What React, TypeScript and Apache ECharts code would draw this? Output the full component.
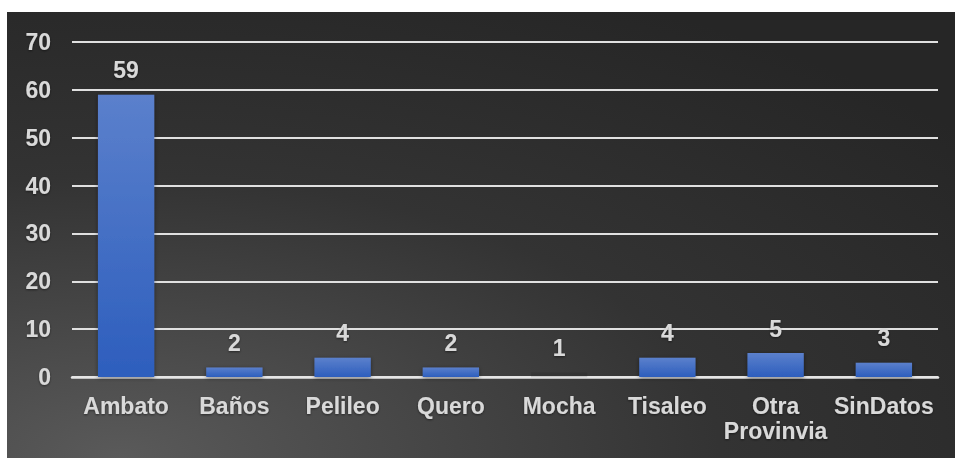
import React, { useEffect, useRef } from "react";
import * as echarts from "echarts";

const categories = ["Ambato", "Baños", "Pelileo", "Quero", "Mocha", "Tisaleo", "Otra\nProvinvia", "SinDatos"];
const values = [59, 2, 4, 2, 1, 4, 5, 3];
const yTicks = { min: 0, max: 70, interval: 10 };

export default function App() {
  const ref = useRef<HTMLDivElement>(null);
  useEffect(() => {
    if (!ref.current) return;
    const chart = echarts.init(ref.current, undefined, { renderer: "svg" });
    const barGrad = new echarts.graphic.LinearGradient(0, 0, 0, 1, [
      { offset: 0, color: "#5b80cc" },
      { offset: 1, color: "#2d5ebd" },
    ]);
    const textColor = "#d9d9d9";
    const font = "'Liberation Sans', Arial, sans-serif";
    const textShadow = { textShadowColor: "rgba(0,0,0,0.5)", textShadowBlur: 2, textShadowOffsetY: 1 };
    chart.setOption({
      animation: false,
      backgroundColor: "#ffffff",
      graphic: [
        {
          type: "rect",
          z: -10,
          silent: true,
          shape: { x: 7, y: 12, width: 948, height: 446 },
          style: {
            fill: new echarts.graphic.RadialGradient(0.12, 1.0, 1.15, [
              { offset: 0, color: "#5a5a5a" },
              { offset: 0.55, color: "#333333" },
              { offset: 1, color: "#262626" },
            ]),
          },
        },
      ],
      grid: { left: 72, right: 17, top: 42, bottom: 81, containLabel: false },
      xAxis: {
        type: "category",
        data: categories,
        axisLine: { show: true, lineStyle: { color: "#e6e6e6", width: 2.5 } },
        axisTick: { show: false },
        axisLabel: {
          color: textColor,
          fontSize: 23,
          fontWeight: "bold",
          fontFamily: font,
          margin: 16,
          lineHeight: 25,
          interval: 0,
          ...textShadow,
        },
      },
      yAxis: {
        type: "value",
        min: yTicks.min,
        max: yTicks.max,
        interval: yTicks.interval,
        axisLine: { show: false },
        axisTick: { show: false },
        splitLine: { show: true, lineStyle: { color: "#e0e0e0", width: 2 } },
        axisLabel: {
          color: textColor,
          fontSize: 23,
          fontWeight: "bold",
          fontFamily: font,
          margin: 21,
          ...textShadow,
        },
      },
      series: [
        {
          type: "bar",
          data: values.map((v, i) =>
            categories[i] === "Mocha"
              ? { value: v, itemStyle: { color: "rgba(0,0,0,0.08)", shadowBlur: 0 } }
              : v
          ),
          barWidth: "52%",
          itemStyle: { color: barGrad, shadowColor: "rgba(0,0,0,0.45)", shadowBlur: 4, shadowOffsetY: 1 },
          label: {
            show: true,
            position: "top",
            distance: 13,
            color: textColor,
            fontSize: 23,
            fontWeight: "bold",
            fontFamily: font,
            ...textShadow,
          },
        },
      ],
    });
    return () => chart.dispose();
  }, []);
  return (
    <div
      ref={ref}
      style={{ position: "fixed", left: 0, top: 0, width: 955, height: 458 }}
    />
  );
}
